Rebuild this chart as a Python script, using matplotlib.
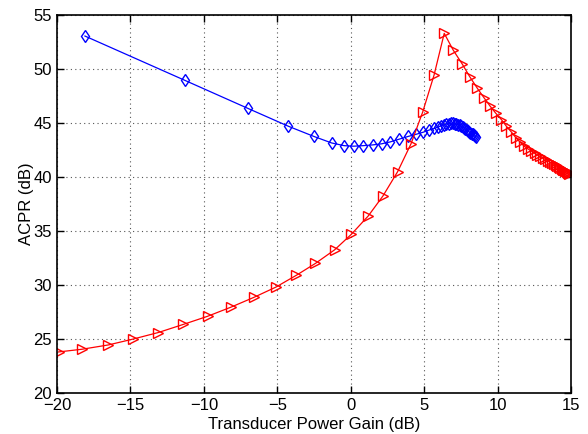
import numpy as np
import matplotlib.pyplot as plt

plt.rcParams['font.family'] = ['Liberation Sans', 'DejaVu Sans']

# blue curve (diamonds)
gain_b = [-18.1, -11.3, -7.0, -4.25, -2.5, -1.3, -0.45, 0.2, 0.85, 1.5, 2.1, 2.7,
          3.3, 3.9, 4.45, 4.95, 5.35, 5.7, 5.95, 6.15, 6.35, 6.52, 6.68, 6.82, 6.95, 7.07,
          7.19, 7.3, 7.41, 7.52, 7.62, 7.72, 7.81, 7.9, 7.99, 8.07, 8.15, 8.23, 8.3,
          8.37, 8.44, 8.5]
acpr_b = [53.05, 48.95, 46.35, 44.7, 43.75, 43.15, 42.9, 42.85, 42.9, 42.97, 43.07, 43.25,
          43.5, 43.75, 43.95, 44.15, 44.35, 44.5, 44.62, 44.74, 44.84, 44.9, 44.95, 44.97, 44.97, 44.95,
          44.91, 44.85, 44.78, 44.7, 44.62, 44.53, 44.45, 44.36, 44.27, 44.18, 44.1, 44.02, 43.94,
          43.86, 43.79, 43.73]

# red curve (triangles)
gain_r = [-19.9, -18.3, -16.5, -14.8, -13.1, -11.4, -9.75, -8.15, -6.6, -5.1, -3.7, -2.4,
          -1.1, 0.05, 1.2, 2.2, 3.2, 4.1, 4.9, 5.68, 6.37, 6.98, 7.6, 8.1, 8.63, 9.07,
          9.5, 9.88, 10.27, 10.6, 10.95, 11.27, 11.55, 11.82, 12.07, 12.3, 12.52, 12.72,
          12.91, 13.09, 13.26, 13.42, 13.57, 13.71, 13.84, 13.96, 14.07, 14.18, 14.28,
          14.37, 14.45, 14.53, 14.6, 14.66, 14.72, 14.77, 14.82, 14.86, 14.9]
acpr_r = [23.8, 24.05, 24.45, 25.0, 25.6, 26.35, 27.1, 27.95, 28.85, 29.8, 30.9, 32.0,
          33.25, 34.7, 36.4, 38.25, 40.5, 43.05, 46.0, 49.45, 53.3, 51.75, 50.45, 49.3, 48.2, 47.35,
          46.55, 45.9, 45.3, 44.7, 44.15, 43.6, 43.2, 42.85, 42.6, 42.4, 42.2, 42.05,
          41.9, 41.75, 41.62, 41.5, 41.38, 41.27, 41.17, 41.07, 40.98, 40.9, 40.82,
          40.75, 40.68, 40.62, 40.56, 40.51, 40.46, 40.42, 40.38, 40.35, 40.32]

fig = plt.figure(figsize=(5.88, 4.34), dpi=100)
ax = fig.add_axes([0.097, 0.0945, 0.874, 0.871])

ax.plot(gain_b, acpr_b, '-', color='#0000ff', marker='d', mfc='none', mec='#0000ff',
        markersize=6, linewidth=0.9, markeredgewidth=1.0)
ax.plot(gain_r, acpr_r, '-', color='#ff0000', marker='>', mfc='none', mec='#ff0000',
        markersize=7, linewidth=0.9, markeredgewidth=1.0)

ax.set_xlim(-20, 15)
ax.set_ylim(20, 55)
ax.set_xticks(np.arange(-20, 16, 5))
ax.set_yticks(np.arange(20, 56, 5))
ax.grid(True, linestyle=(0, (1, 3)), color='#555555', linewidth=0.8)
ax.tick_params(direction='in', top=True, right=True, labelsize=12, length=5, width=1)
for s in ax.spines.values():
    s.set_linewidth(1.2)

ax.set_xlabel('Transducer Power Gain (dB)', fontsize=12, labelpad=3)
ax.set_ylabel('ACPR (dB)', fontsize=12, labelpad=0)

fig.savefig('out.png', dpi=100)
